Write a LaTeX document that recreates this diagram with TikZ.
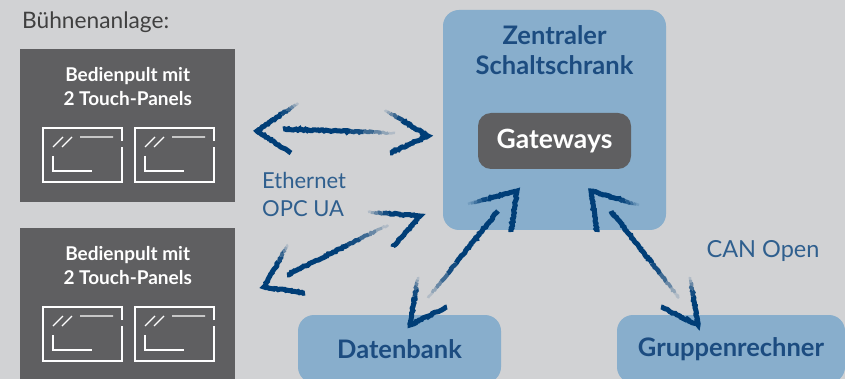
\documentclass[tikz,border=0pt]{standalone}
\usepackage{fontspec}
\setmainfont{Lato}
\usetikzlibrary{calc,positioning,decorations.pathmorphing}
\definecolor{hintergrund}{HTML}{D1D2D4}
\definecolor{anthrazit}{HTML}{5F5F61}
\definecolor{hellblau}{HTML}{88AECC}
\definecolor{dunkelblau}{HTML}{003E77}
\definecolor{textblau}{HTML}{2F5F8E}
\definecolor{titelblau}{HTML}{1C4C80}
\tikzset{
  pult/.style={fill=anthrazit, minimum width=215pt, minimum height=153pt, anchor=north west, inner sep=0pt},
  pulttext/.style={text=white, align=center, font=\fontsize{19}{24}\selectfont\bfseries, inner sep=0pt},
  blaubox/.style={fill=hellblau, rounded corners=16pt, inner sep=0pt},
  blautext/.style={text=titelblau, font=\fontsize{25.5}{30}\selectfont\bfseries, align=center, inner sep=0pt},
  hinweis/.style={text=textblau, font=\fontsize{22}{28}\selectfont, align=left, inner sep=0pt},
  brush/.style={draw=dunkelblau, line width=5pt, line join=miter,
    decorate, decoration={random steps, segment length=1.6pt, amplitude=.7pt}},
  touchpanel/.pic={
    \draw[white, line width=1.2pt] (79,13) |- (0,0) |- (79,54) -- (79,19);
    \draw[white, line width=1.2pt] (10,19) -- (20,9) (19,19) -- (29,9) (37,9) -- (70,9);
    \draw[white, line width=1.2pt] (10,28) |- (49,43);
  }
}
\newcommand{\ausblenden}[2]{%
  \foreach \s/\e/\o/\w in {.6/.72/.9/4.5, .72/.81/.7/4, .81/.88/.5/3.5, .88/.94/.3/3, .94/1/.15/2.5}
    \draw[brush, line width=\w pt, opacity=\o] ($(#1)!\s!(#2)$) -- ($(#1)!\e!(#2)$);
}
\newcommand{\spitze}[3]{%
  \draw[brush] (#1) -- (#2) -- ($(#2)!.6!(#3)$);
  \ausblenden{#2}{#3}
}
\newcommand{\schaft}[2]{%
  \draw[brush] (#1) -- ($(#1)!.6!(#2)$);
  \ausblenden{#1}{#2}
}
\begin{document}
\begin{tikzpicture}[x=1pt, y=-1pt]
  \clip (0,0) rectangle (845,379);
  \fill[hintergrund] (0,0) rectangle (845,379);
  \pgfmathsetseed{11}
  % Buehnenanlage
  \node[text=black!75, font=\fontsize{22.7}{26}\selectfont, anchor=west, inner sep=0pt] (titel) at (22,22) {Bühnenanlage:};
  \node[pult] (pult1) at (20,49) {};
  \node[pult] (pult2) at (20,228) {};
  \node[pulttext, below=18pt of pult1.north] (text1) {Bedienpult mit\\2 Touch-Panels};
  \node[pulttext, below=18pt of pult2.north] (text2) {Bedienpult mit\\2 Touch-Panels};
  \pic at (43,128) {touchpanel};
  \pic at (135,128) {touchpanel};
  \pic at (43,307) {touchpanel};
  \pic at (135,307) {touchpanel};
  % Schaltschrank
  \node[blaubox, minimum width=223pt, minimum height=220pt] (schrank) at (554.5,120) {};
  \node[blautext, below=16pt of schrank.north] (schranktext) {Zentraler\\Schaltschrank};
  \node[fill=anthrazit, rounded corners=13pt, minimum width=153pt, minimum height=56pt, inner sep=0pt,
    text=white, font=\fontsize{26.5}{30}\selectfont\bfseries] (gateways) at (554.5,141) {Gateways};
  \node[blaubox, blautext, minimum width=203pt, minimum height=68pt] (datenbank) at (399.5,349) {Datenbank};
  \node[blaubox, blautext, minimum width=228pt, minimum height=68pt] (gruppe) at (731,349) {Gruppenrechner};
  \node[hinweis, anchor=north west] (ethernet) at (262,172) {Ethernet\\OPC UA};
  \node[hinweis, font=\fontsize{23.5}{28}\selectfont] (can) at (763,251) {CAN Open};
  % Pfeile
  \foreach \n/\x/\y in {a1/257/131, a2/291/153, a3/298/103, a4/283/129, a5/395/133, a6/428/136, a7/390/153, a8/385/110,
      b1/420/216, b2/393/247, b3/368/212, b4/287/275, b5/388/225, b6/264/287, b7/305/293, b8/288/245,
      c1/517/191, c2/511/232, c3/468/204, c4/498/211, c5/428/298, c6/410/325, c7/447/307, c8/418/277,
      d1/591/191, d2/597/232, d3/639/205, d4/611/211, d5/679/298, d6/698/325, d7/661/307, d8/690/277}
    \coordinate (\n) at (\x,\y);
  \spitze{a2}{a1}{a3}
  \schaft{a4}{a5}
  \spitze{a7}{a6}{a8}
  \spitze{b2}{b1}{b3}
  \schaft{b4}{b5}
  \spitze{b7}{b6}{b8}
  \spitze{c2}{c1}{c3}
  \schaft{c4}{c5}
  \spitze{c7}{c6}{c8}
  \spitze{d2}{d1}{d3}
  \schaft{d4}{d5}
  \spitze{d7}{d6}{d8}
\end{tikzpicture}
\end{document}
